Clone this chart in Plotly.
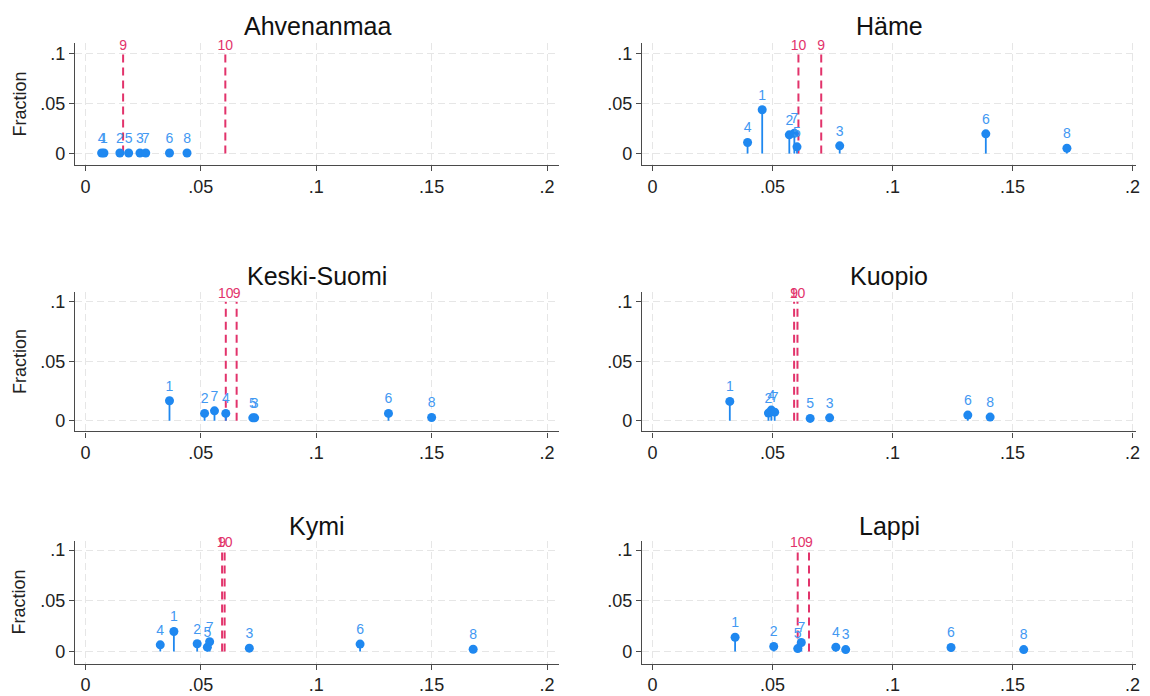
import plotly.graph_objects as go

# ---------------- data ----------------
regions = ["Ahvenanmaa", "Häme", "Keski-Suomi", "Kuopio", "Kymi", "Lappi"]
point_labels = ["1", "2", "3", "4", "5", "6", "7", "8"]
ref_labels = ["9", "10"]

ahvenanmaa_x = [0.0080, 0.0149, 0.0236, 0.0070, 0.0187, 0.0364, 0.0261, 0.0440]
ahvenanmaa_y = [0.0006, 0.0006, 0.0006, 0.0006, 0.0006, 0.0006, 0.0006, 0.0006]
ahvenanmaa_ref = [0.0163, 0.0606]

hame_x = [0.0457, 0.0570, 0.0780, 0.0396, 0.0602, 0.1389, 0.0591, 0.1727]
hame_y = [0.0437, 0.0187, 0.0077, 0.0110, 0.0067, 0.0197, 0.0203, 0.0053]
hame_ref = [0.0703, 0.0608]

keskisuomi_x = [0.0364, 0.0516, 0.0733, 0.0608, 0.0725, 0.1313, 0.0559, 0.1500]
keskisuomi_y = [0.0169, 0.0062, 0.0025, 0.0062, 0.0025, 0.0062, 0.0084, 0.0028]
keskisuomi_ref = [0.0655, 0.0608]

kuopio_x = [0.0322, 0.0483, 0.0738, 0.0495, 0.0657, 0.1314, 0.0509, 0.1407]
kuopio_y = [0.0163, 0.0065, 0.0025, 0.0090, 0.0020, 0.0048, 0.0073, 0.0031]
kuopio_ref = [0.0590, 0.0604]

kymi_x = [0.0383, 0.0484, 0.0710, 0.0324, 0.0528, 0.1190, 0.0538, 0.1680]
kymi_y = [0.0198, 0.0077, 0.0034, 0.0067, 0.0044, 0.0074, 0.0097, 0.0023]
kymi_ref = [0.0592, 0.0603]

lappi_x = [0.0344, 0.0505, 0.0805, 0.0764, 0.0605, 0.1244, 0.0620, 0.1547]
lappi_y = [0.0141, 0.0050, 0.0020, 0.0044, 0.0030, 0.0040, 0.0090, 0.0020]
lappi_ref = [0.0652, 0.0605]

ref_height = 0.1

x_tickvals = [0, 0.05, 0.1, 0.15, 0.2]
x_ticktext = ["0", ".05", ".1", ".15", ".2"]
y_tickvals = [0, 0.05, 0.1]
y_ticktext = ["0", ".05", ".1"]
y_title = "Fraction"

panels = [
    (ahvenanmaa_x, ahvenanmaa_y, ahvenanmaa_ref),
    (hame_x, hame_y, hame_ref),
    (keskisuomi_x, keskisuomi_y, keskisuomi_ref),
    (kuopio_x, kuopio_y, kuopio_ref),
    (kymi_x, kymi_y, kymi_ref),
    (lappi_x, lappi_y, lappi_ref),
]

# ---------------- styling / layout ----------------
OFF = 8                      # page body margin of the browser
W, H = 1150 - OFF, 696 - OFF
FONT = "Liberation Sans, Arial, sans-serif"
BLUE = "#1f88f0"
BLUE_TXT = "#4298f2"
RED = "#e2336b"
GRID = "#e6e6e6"
AXIS = "#4a4a4a"

# pixel geometry in window coordinates: (left, right) per column, (top, bottom) per row
col_px = [(75, 559), (642, 1136)]
col_range = [(-0.00455, 0.2052), (-0.0044, 0.2015)]
row_px = [(43, 165), (291.6, 431.4), (540.6, 663.6)]
row_range = [(-0.0114, 0.1103), (-0.0089, 0.1086), (-0.0118, 0.1093)]
title_px = [26.5, 276, 526]


def px_x(v):
    return (v - OFF) / W


def px_y(v):
    return 1 - (v - OFF) / H


fig = go.Figure()
layout = dict(
    template="none",
    width=W, height=H,
    margin=dict(l=0, r=0, t=0, b=0, autoexpand=False),
    paper_bgcolor="white", plot_bgcolor="white",
    showlegend=False,
    font=dict(family=FONT, color="#222222"),
    annotations=[],
)

for i, (xs, ys, refs) in enumerate(panels):
    r, c = divmod(i, 2)
    n = i + 1
    xa = "x" if n == 1 else f"x{n}"
    ya = "y" if n == 1 else f"y{n}"
    xkey = "xaxis" if n == 1 else f"xaxis{n}"
    ykey = "yaxis" if n == 1 else f"yaxis{n}"

    l, rgt = col_px[c]
    t, b = row_px[r]
    layout[xkey] = dict(
        domain=[px_x(l), px_x(rgt)], range=list(col_range[c]), anchor=ya,
        tickvals=x_tickvals, ticktext=x_ticktext, automargin=False,
        showline=True, linecolor=AXIS, linewidth=1.3,
        ticks="outside", ticklen=5, tickcolor=AXIS, tickwidth=1.3,
        showgrid=True, gridcolor=GRID, gridwidth=1, griddash="7px,4px",
        zeroline=False, tickfont=dict(size=18, color="#222222", family=FONT),
        fixedrange=True,
    )
    layout[ykey] = dict(
        domain=[px_y(b), px_y(t)], range=list(row_range[r]), anchor=xa,
        tickvals=y_tickvals, ticktext=y_ticktext, automargin=False,
        showline=True, linecolor=AXIS, linewidth=1.3,
        ticks="outside", ticklen=5, tickcolor=AXIS, tickwidth=1.3,
        showgrid=True, gridcolor=GRID, gridwidth=1, griddash="7px,4px",
        zeroline=False, tickfont=dict(size=18, color="#222222", family=FONT),
        fixedrange=True,
    )

    # reference (dashed) lines 9, 10
    rx, ry = [], []
    for v in refs:
        rx += [v, v, None]
        ry += [0, ref_height, None]
    fig.add_trace(go.Scatter(x=rx, y=ry, mode="lines", xaxis=xa, yaxis=ya,
                             line=dict(color=RED, width=2, dash="8px,5px"),
                             hoverinfo="skip"))
    fig.add_trace(go.Scatter(x=refs, y=[ref_height] * len(refs), mode="text",
                             text=ref_labels, textposition="top center",
                             textfont=dict(color=RED, size=14, family=FONT),
                             xaxis=xa, yaxis=ya, cliponaxis=False))

    # stems
    sx, sy = [], []
    for xv, yv in zip(xs, ys):
        sx += [xv, xv, None]
        sy += [0, yv, None]
    fig.add_trace(go.Scatter(x=sx, y=sy, mode="lines", xaxis=xa, yaxis=ya,
                             line=dict(color=BLUE, width=1.8), hoverinfo="skip"))
    fig.add_trace(go.Scatter(x=xs, y=ys, mode="markers+text", text=point_labels,
                             textposition="top center",
                             textfont=dict(color=BLUE_TXT, size=14, family=FONT),
                             marker=dict(color=BLUE, size=9),
                             xaxis=xa, yaxis=ya, cliponaxis=False))

    # panel title
    layout["annotations"].append(dict(
        text=regions[i], x=px_x((l + rgt) / 2), y=px_y(title_px[r]),
        xref="paper", yref="paper", xanchor="center", yanchor="middle",
        showarrow=False, font=dict(size=25, color="#111111", family=FONT)))
    # y axis title on left column
    if c == 0:
        layout["annotations"].append(dict(
            text=y_title, x=px_x(19.5), y=px_y((t + b) / 2),
            xref="paper", yref="paper", xanchor="center", yanchor="middle",
            textangle=-90, showarrow=False,
            font=dict(size=18, color="#222222", family=FONT)))

fig.update_layout(**layout)
fig.write_html("out.html")
